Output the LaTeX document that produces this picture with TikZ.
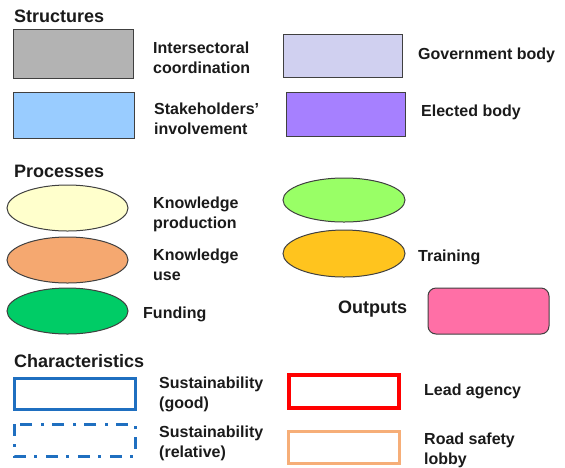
\documentclass[tikz,border=0pt]{standalone}
\usepackage{fontspec}
\setmainfont{Liberation Sans}
\usetikzlibrary{shapes.geometric}
\definecolor{cgray}{HTML}{B3B3B3}
\definecolor{cltblue}{HTML}{99CCFF}
\definecolor{clav}{HTML}{D0D0F0}
\definecolor{cpurple}{HTML}{A680FF}
\definecolor{cltyellow}{HTML}{FFFFCC}
\definecolor{corange}{HTML}{F5A870}
\definecolor{cgreen}{HTML}{00CC66}
\definecolor{cltgreen}{HTML}{99FF66}
\definecolor{cgold}{HTML}{FFC41E}
\definecolor{cpink}{HTML}{FF6FA6}
\definecolor{cblue}{HTML}{1F6FC0}
\definecolor{cpeach}{HTML}{F6AE78}
\definecolor{cline}{HTML}{404040}
\definecolor{ctext}{HTML}{1A1A1A}
\tikzset{
  box/.style={draw=cline, line width=1pt},
  ell/.style={draw=cline, line width=1pt},
  heading/.style={anchor=west, inner sep=0pt, text=ctext, font=\fontsize{18}{21}\selectfont\bfseries},
  label/.style={anchor=west, inner sep=0pt, align=left, text=ctext, font=\fontsize{16}{20}\selectfont\bfseries},
}
\begin{document}
\begin{tikzpicture}[x=1pt,y=-1pt]
\useasboundingbox (0,0) rectangle (565,467);
% Structures
\node[heading] (hstruct) at (14,16) {Structures};
\draw[box, fill=cgray] (13,29) rectangle (133,78);
\node[label] (tinter) at (153,58) {Intersectoral\\coordination};
\draw[box, fill=cltblue] (13,92) rectangle (134,138);
\node[label] (tstake) at (154,119) {Stakeholders’\\involvement};
\draw[box, fill=clav] (283,34) rectangle (402,77);
\node[label] (tgov) at (418,55) {Government body};
\draw[box, fill=cpurple] (286,92) rectangle (405,136);
\node[label] (telect) at (421,112) {Elected body};
% Processes
\node[heading] (hproc) at (14,171) {Processes};
\draw[ell, fill=cltyellow] (67.5,208) ellipse [x radius=60.5, y radius=23];
\node[label] (tkprod) at (153,214) {Knowledge\\production};
\draw[ell, fill=corange] (67.5,260) ellipse [x radius=60.5, y radius=23];
\node[label] (tkuse) at (153,265) {Knowledge\\use};
\draw[ell, fill=cgreen] (67.5,311) ellipse [x radius=60.5, y radius=23];
\node[label] (tfund) at (143,314) {Funding};
\draw[ell, fill=cltgreen] (344,200) ellipse [x radius=61, y radius=22];
\draw[ell, fill=cgold] (344,253.5) ellipse [x radius=61, y radius=23.5];
\node[label] (ttrain) at (418,257) {Training};
\node[heading] (houts) at (338,309) {Outputs};
\draw[box, fill=cpink, rounded corners=8pt] (428,288) rectangle (549,334);
% Characteristics
\node[heading] (hchar) at (14,361) {Characteristics};
\draw[cblue, line width=3pt] (14,378) rectangle (135,409);
\node[label] (tsgood) at (159,394) {Sustainability\\(good)};
\draw[cblue, line width=3pt, dash pattern=on 12pt off 8pt on 3pt off 9pt] (14,424) rectangle (135,456);
\node[label] (tsrel) at (159,443) {Sustainability\\(relative)};
\draw[red, line width=4pt] (289,375) rectangle (399,408);
\node[label] (tlead) at (424,391) {Lead agency};
\draw[cpeach, line width=3pt] (288,431) rectangle (399,463);
\node[label] (tlobby) at (424,450) {Road safety\\lobby};
\end{tikzpicture}
\end{document}
